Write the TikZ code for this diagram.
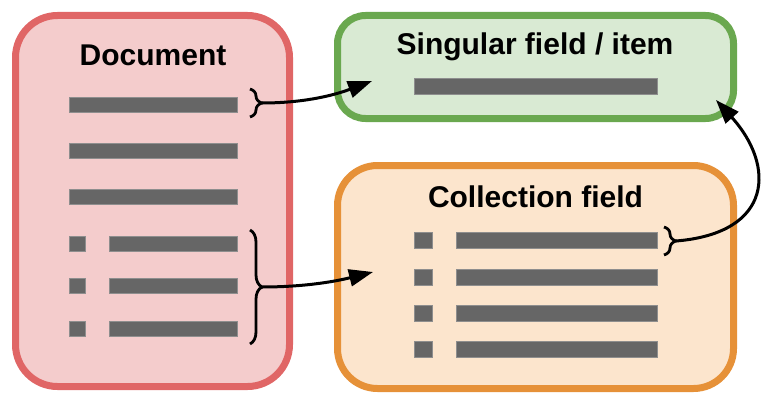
\documentclass[tikz,border=0pt]{standalone}
\usepackage{fontspec}
\setmainfont{Liberation Sans}
\usetikzlibrary{arrows.meta, decorations.pathreplacing}

\definecolor{docfill}{HTML}{F4CCCC}
\definecolor{docline}{HTML}{E06666}
\definecolor{singfill}{HTML}{D9EAD3}
\definecolor{singline}{HTML}{6AA84F}
\definecolor{collfill}{HTML}{FCE5CD}
\definecolor{collline}{HTML}{E69138}
\definecolor{barfill}{HTML}{666666}
\definecolor{barline}{HTML}{8E8E8E}

\begin{document}
\begin{tikzpicture}[x=1pt, y=-1pt, >={Triangle[length=24pt,width=17pt]},
    box/.style={draw, line width=7pt, inner sep=0pt},
    title/.style={anchor=base, font=\fontsize{30}{36}\selectfont\bfseries},
    bar/.style={fill=barfill, draw=barline, line width=0.6pt, inner sep=0pt, minimum height=15pt},
    brc/.style={decorate, decoration={brace, amplitude=12pt}, line width=2.8pt},
    link/.style={->, line width=3pt}]
    \useasboundingbox (0,0) rectangle (773,404);

    % Document
    \node [box, draw=docline, fill=docfill, rounded corners=42pt, minimum width=274pt, minimum height=371pt] (doc) at (152.5,201) {};
    \node [title] (doctitle) at (153,66) {Document};
    \node [bar, minimum width=168pt] (d1) at (153,104.5) {};
    \node [bar, minimum width=168pt] (d2) at (153,150.5) {};
    \node [bar, minimum width=168pt] (d3) at (153,196.5) {};
    \node [bar, minimum width=16pt] (d4b) at (77,243.5) {};
    \node [bar, minimum width=128pt] (d4) at (173,243.5) {};
    \node [bar, minimum width=16pt] (d5b) at (77,285.5) {};
    \node [bar, minimum width=128pt] (d5) at (173,285.5) {};
    \node [bar, minimum width=16pt] (d6b) at (77,328.5) {};
    \node [bar, minimum width=128pt] (d6) at (173,328.5) {};

    % Singular field
    \node [box, draw=singline, fill=singfill, rounded corners=28pt, minimum width=396pt, minimum height=103pt] (sing) at (535.5,67) {};
    \node [title] (singtitle) at (535,55) {Singular field / item};
    \node [bar, minimum width=243pt, minimum height=16pt] (s1) at (535.5,86) {};

    % Collection field
    \node [box, draw=collline, fill=collfill, rounded corners=40pt, minimum width=396pt, minimum height=223pt] (coll) at (535.5,277) {};
    \node [title] (colltitle) at (535.5,207) {Collection field};
    \node [bar, minimum width=18.5pt, minimum height=16pt] (c1b) at (423.5,240) {};
    \node [bar, minimum width=201pt, minimum height=16pt] (c1) at (556.5,240) {};
    \node [bar, minimum width=18.5pt, minimum height=16pt] (c2b) at (423.5,277) {};
    \node [bar, minimum width=201pt, minimum height=16pt] (c2) at (556.5,277) {};
    \node [bar, minimum width=18.5pt, minimum height=16pt] (c3b) at (423.5,313.5) {};
    \node [bar, minimum width=201pt, minimum height=16pt] (c3) at (556.5,313.5) {};
    \node [bar, minimum width=18.5pt, minimum height=16pt] (c4b) at (423.5,349.5) {};
    \node [bar, minimum width=201pt, minimum height=16pt] (c4) at (556.5,349.5) {};

    % Braces
    \draw [brc] (250,89) -- (250,117);
    \draw [brc] (250,230) -- (250,344);
    \draw [brc] (664,227) -- (664,255);

    % Links
    \coordinate (b1) at (262,103);
    \coordinate (b2) at (262,287);
    \coordinate (b3) at (676,241);
    \coordinate (a1) at (372,81);
    \coordinate (a2) at (373,272);
    \coordinate (a3) at (716,100);
    \draw [link] (b1) .. controls +(40,0) and +(-40,15) .. (a1);
    \draw [link] (b2) .. controls +(40,0) and +(-40,10) .. (a2);
    \draw [link] (b3) .. controls +(98,-8) and +(59,65) .. (a3);

\end{tikzpicture}
\end{document}
